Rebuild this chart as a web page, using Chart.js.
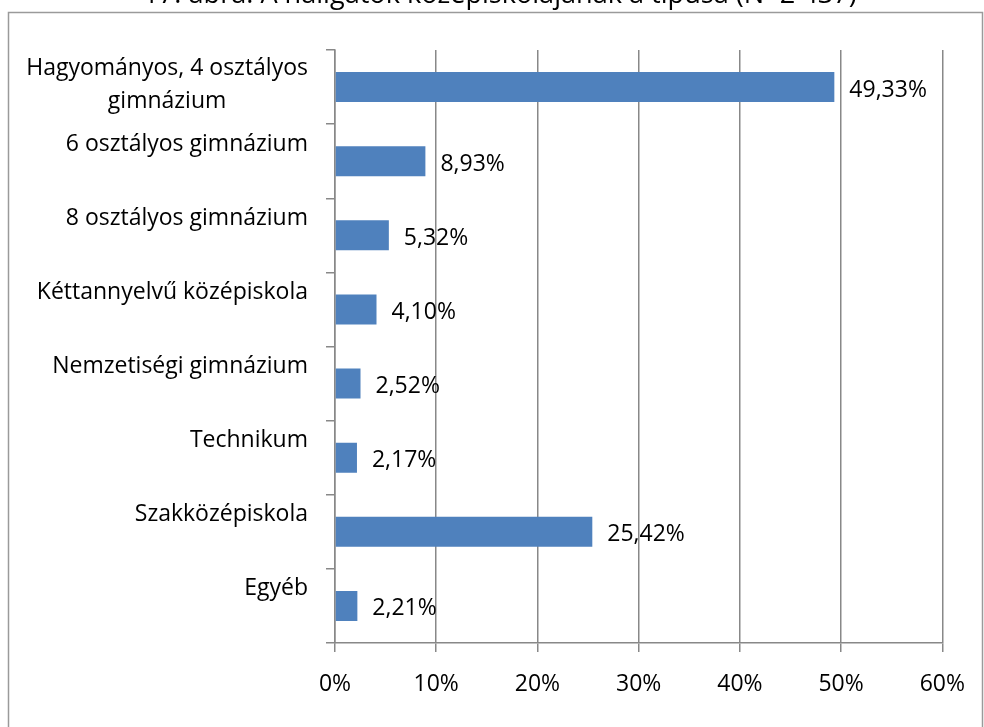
<!DOCTYPE html>
<html>
<head>
<meta charset="utf-8">
<script src="https://cdn.jsdelivr.net/npm/chart.js@4"></script>
<style>
html,body{margin:0;padding:0;background:#fff;}
#wrap{position:absolute;left:0;top:0;width:984px;height:727px;}
</style>
</head>
<body>
<div id="wrap"><canvas id="c" width="984" height="727"></canvas></div>
<script>
const titleText = '17. ábra: A hallgatók középiskolájának a típusa (N=2 437)';
const categories = [
  ['Hagyományos, 4 osztályos', 'gimnázium'],
  '6 osztályos gimnázium',
  '8 osztályos gimnázium',
  'Kéttannyelvű középiskola',
  'Nemzetiségi gimnázium',
  'Technikum',
  'Szakközépiskola',
  'Egyéb'
];
const values = [49.33, 8.93, 5.32, 4.10, 2.52, 2.17, 25.42, 2.21];
const xTickValues = [0, 10, 20, 30, 40, 50, 60];

const FONT = '"Open Sans", Lato, sans-serif';
const FSIZE = 23;
const GRID = '#888888';

const fmt = v => v.toFixed(2).replace('.', ',') + '%';

const extras = {
  id: 'extras',
  beforeDraw(chart) {
    const ctx = chart.ctx;
    ctx.save();
    ctx.strokeStyle = '#9a9a9a';
    ctx.lineWidth = 1.5;
    ctx.strokeRect(8.5, 12.5, 974, 800);
    ctx.restore();
  },
  afterDraw(chart) {
    const ctx = chart.ctx;
    ctx.save();
    // title (top clipped like the reference), sized to span the same width
    ctx.fillStyle = '#000';
    ctx.font = '24px ' + FONT;
    const w = ctx.measureText(titleText).width;
    const ts = 24 * 714 / w;
    ctx.font = ts.toFixed(1) + 'px ' + FONT;
    ctx.textAlign = 'center';
    ctx.textBaseline = 'alphabetic';
    ctx.fillText(titleText, 500, 3);

    // value labels
    ctx.font = FSIZE + 'px ' + FONT;
    ctx.textAlign = 'left';
    ctx.textBaseline = 'middle';
    const meta = chart.getDatasetMeta(0);
    meta.data.forEach((el, i) => {
      ctx.fillText(fmt(values[i]), el.x + 15, el.y + 3);
    });

    // multi-line category labels, centred block, right edge at the label column
    const ys = chart.scales.y;
    const rightEdge = ys.right - 9 - 18;
    categories.forEach((lab, i) => {
      if (!Array.isArray(lab)) return;
      const widths = lab.map(t => ctx.measureText(t).width);
      const cx = rightEdge - Math.max(...widths) / 2;
      const lh = 33;
      const cy = ys.getPixelForTick(i) - 2;
      ctx.textAlign = 'center';
      lab.forEach((t, k) => {
        ctx.fillText(t, cx, cy + (k - (lab.length - 1) / 2) * lh);
      });
    });
    ctx.restore();
  }
};

new Chart(document.getElementById('c'), {
  type: 'bar',
  data: {
    labels: categories,
    datasets: [{
      data: values,
      backgroundColor: '#4F81BD',
      borderWidth: 0,
      categoryPercentage: 1,
      barPercentage: 0.405
    }]
  },
  options: {
    indexAxis: 'y',
    responsive: false,
    animation: false,
    events: [],
    layout: { padding: { top: 50, right: 41, left: 0, bottom: 0 } },
    plugins: {
      legend: { display: false },
      tooltip: { enabled: false },
      title: { display: false }
    },
    scales: {
      x: {
        min: 0,
        max: 60,
        afterBuildTicks: s => { s.ticks = xTickValues.map(v => ({ value: v })); },
        afterFit: s => { s.height = 84; },
        grid: { color: GRID, lineWidth: 1.5, tickLength: 9, drawTicks: true },
        border: { display: true, color: GRID, width: 1.5 },
        ticks: {
          color: '#000',
          font: { family: FONT, size: FSIZE },
          padding: 19,
          callback: v => v + '%'
        }
      },
      y: {
        afterFit: s => { s.width = 335; },
        grid: { display: true, drawOnChartArea: false, offset: true, color: GRID, lineWidth: 1.5, tickLength: 9 },
        border: { display: true, color: GRID, width: 1.5 },
        ticks: {
          color: c => Array.isArray(categories[c.index]) ? 'rgba(0,0,0,0)' : '#000',
          font: { family: FONT, size: FSIZE },
          padding: 18,
          labelOffset: -17,
          crossAlign: 'near',
          autoSkip: false
        }
      }
    }
  },
  plugins: [extras]
});
</script>
</body>
</html>
